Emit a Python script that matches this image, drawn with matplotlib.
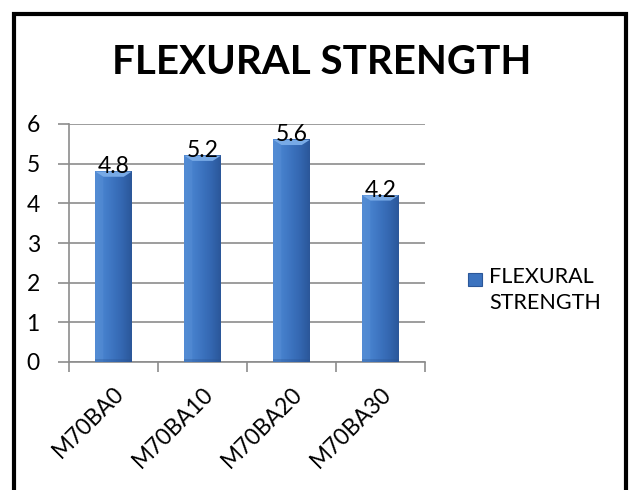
import numpy as np
import matplotlib.pyplot as plt
from matplotlib.colors import LinearSegmentedColormap
from matplotlib.patches import Rectangle, Polygon

plt.rcParams['font.family'] = ['Lato', 'DejaVu Sans']

# mix designations and their flexural strength
mixes = ['M70BA0', 'M70BA10', 'M70BA20', 'M70BA30']
strength = [4.8, 5.2, 5.6, 4.2]
series_name = 'FLEXURAL STRENGTH'

W, H = 631, 490
fig = plt.figure(figsize=(W / 100, H / 100), dpi=100)

def fx(px):
    return px / W

def fy(py):
    return 1 - py / H

ax = fig.add_axes([fx(69), fy(362), fx(425) - fx(69), fy(124) - fy(362)])

grid_col = '#8c8c8c'
bar_cmap = LinearSegmentedColormap.from_list(
    'bevel', ['#4f88d2', '#4680cc', '#3c73bf', '#3366b0', '#2b5799'])

x = np.arange(len(mixes))
bars = ax.bar(x, strength, width=0.41, color='#3c73bf', zorder=3)

# shade each bar with a left-to-right gradient and a light bevel on top
grad = np.linspace(0, 1, 64).reshape(1, -1)
for b in bars:
    x0, w, h = b.get_x(), b.get_width(), b.get_height()
    b.set_alpha(0)
    ax.imshow(grad, cmap=bar_cmap, aspect='auto', zorder=3,
              extent=(x0, x0 + w, 0, h), interpolation='bicubic')
    bev = 0.13
    ax.add_patch(Polygon([(x0, h), (x0 + w, h), (x0 + w * 0.78, h - bev),
                          (x0 + w * 0.22, h - bev)],
                         closed=True, facecolor='#78aae6', edgecolor='none',
                         zorder=4))
    ax.add_patch(Polygon([(x0, h), (x0 + w * 0.22, h - bev), (x0 + w * 0.22, 0),
                          (x0, 0)], closed=True, facecolor='#5e95d9',
                         edgecolor='none', alpha=0.35, zorder=4))
    ax.add_patch(Rectangle((x0, 0), w, 0.08, facecolor='#2a5390',
                           edgecolor='none', alpha=0.3, zorder=4))
    ax.text(x0 + w / 2, h - 0.04, f'{h:g}', ha='center', va='baseline',
            fontsize=16.5, zorder=5)

ax.set_xlim(-0.5, len(mixes) - 0.5)
ax.set_ylim(0, 6)
ax.set_yticks(range(0, 7))
ax.set_xticks(x)
ax.set_xticklabels(mixes, rotation=45, ha='right', rotation_mode='anchor',
                   fontsize=16.5)
ax.set_xticks(np.arange(-0.5, len(mixes)), minor=True)
ax.tick_params(axis='x', which='major', length=0, pad=15)
ax.tick_params(axis='x', which='minor', length=7, color=grid_col, width=1.2)
ax.tick_params(axis='y', length=8, color=grid_col, width=1.2, labelsize=16.5,
               pad=13)

ax.grid(axis='y', color=grid_col, linewidth=1.2, zorder=0)
ax.set_axisbelow(True)
for s in ['top', 'right']:
    ax.spines[s].set_visible(False)
for s in ['left', 'bottom']:
    ax.spines[s].set_color(grid_col)
    ax.spines[s].set_linewidth(1.2)

fig.text(fx(322), fy(62), series_name, ha='center', va='center',
         fontsize=29, fontweight='bold')

# legend key drawn beside the plot
fig.add_artist(Rectangle((fx(468), fy(286)), fx(14), fy(273) - fy(286),
                         transform=fig.transFigure, facecolor='#3c73bf',
                         edgecolor='#2b5799', linewidth=0.8))
fig.text(fx(489), fy(267), 'FLEXURAL\nSTRENGTH', ha='left', va='top',
         fontsize=15.5, linespacing=1.4)

# chart frame
fig.add_artist(Rectangle((fx(14), fy(520)), fx(612), fy(14) - fy(520),
                         transform=fig.transFigure, facecolor='none',
                         edgecolor='black', linewidth=3, clip_on=False))

fig.savefig('out.png', dpi=100)
